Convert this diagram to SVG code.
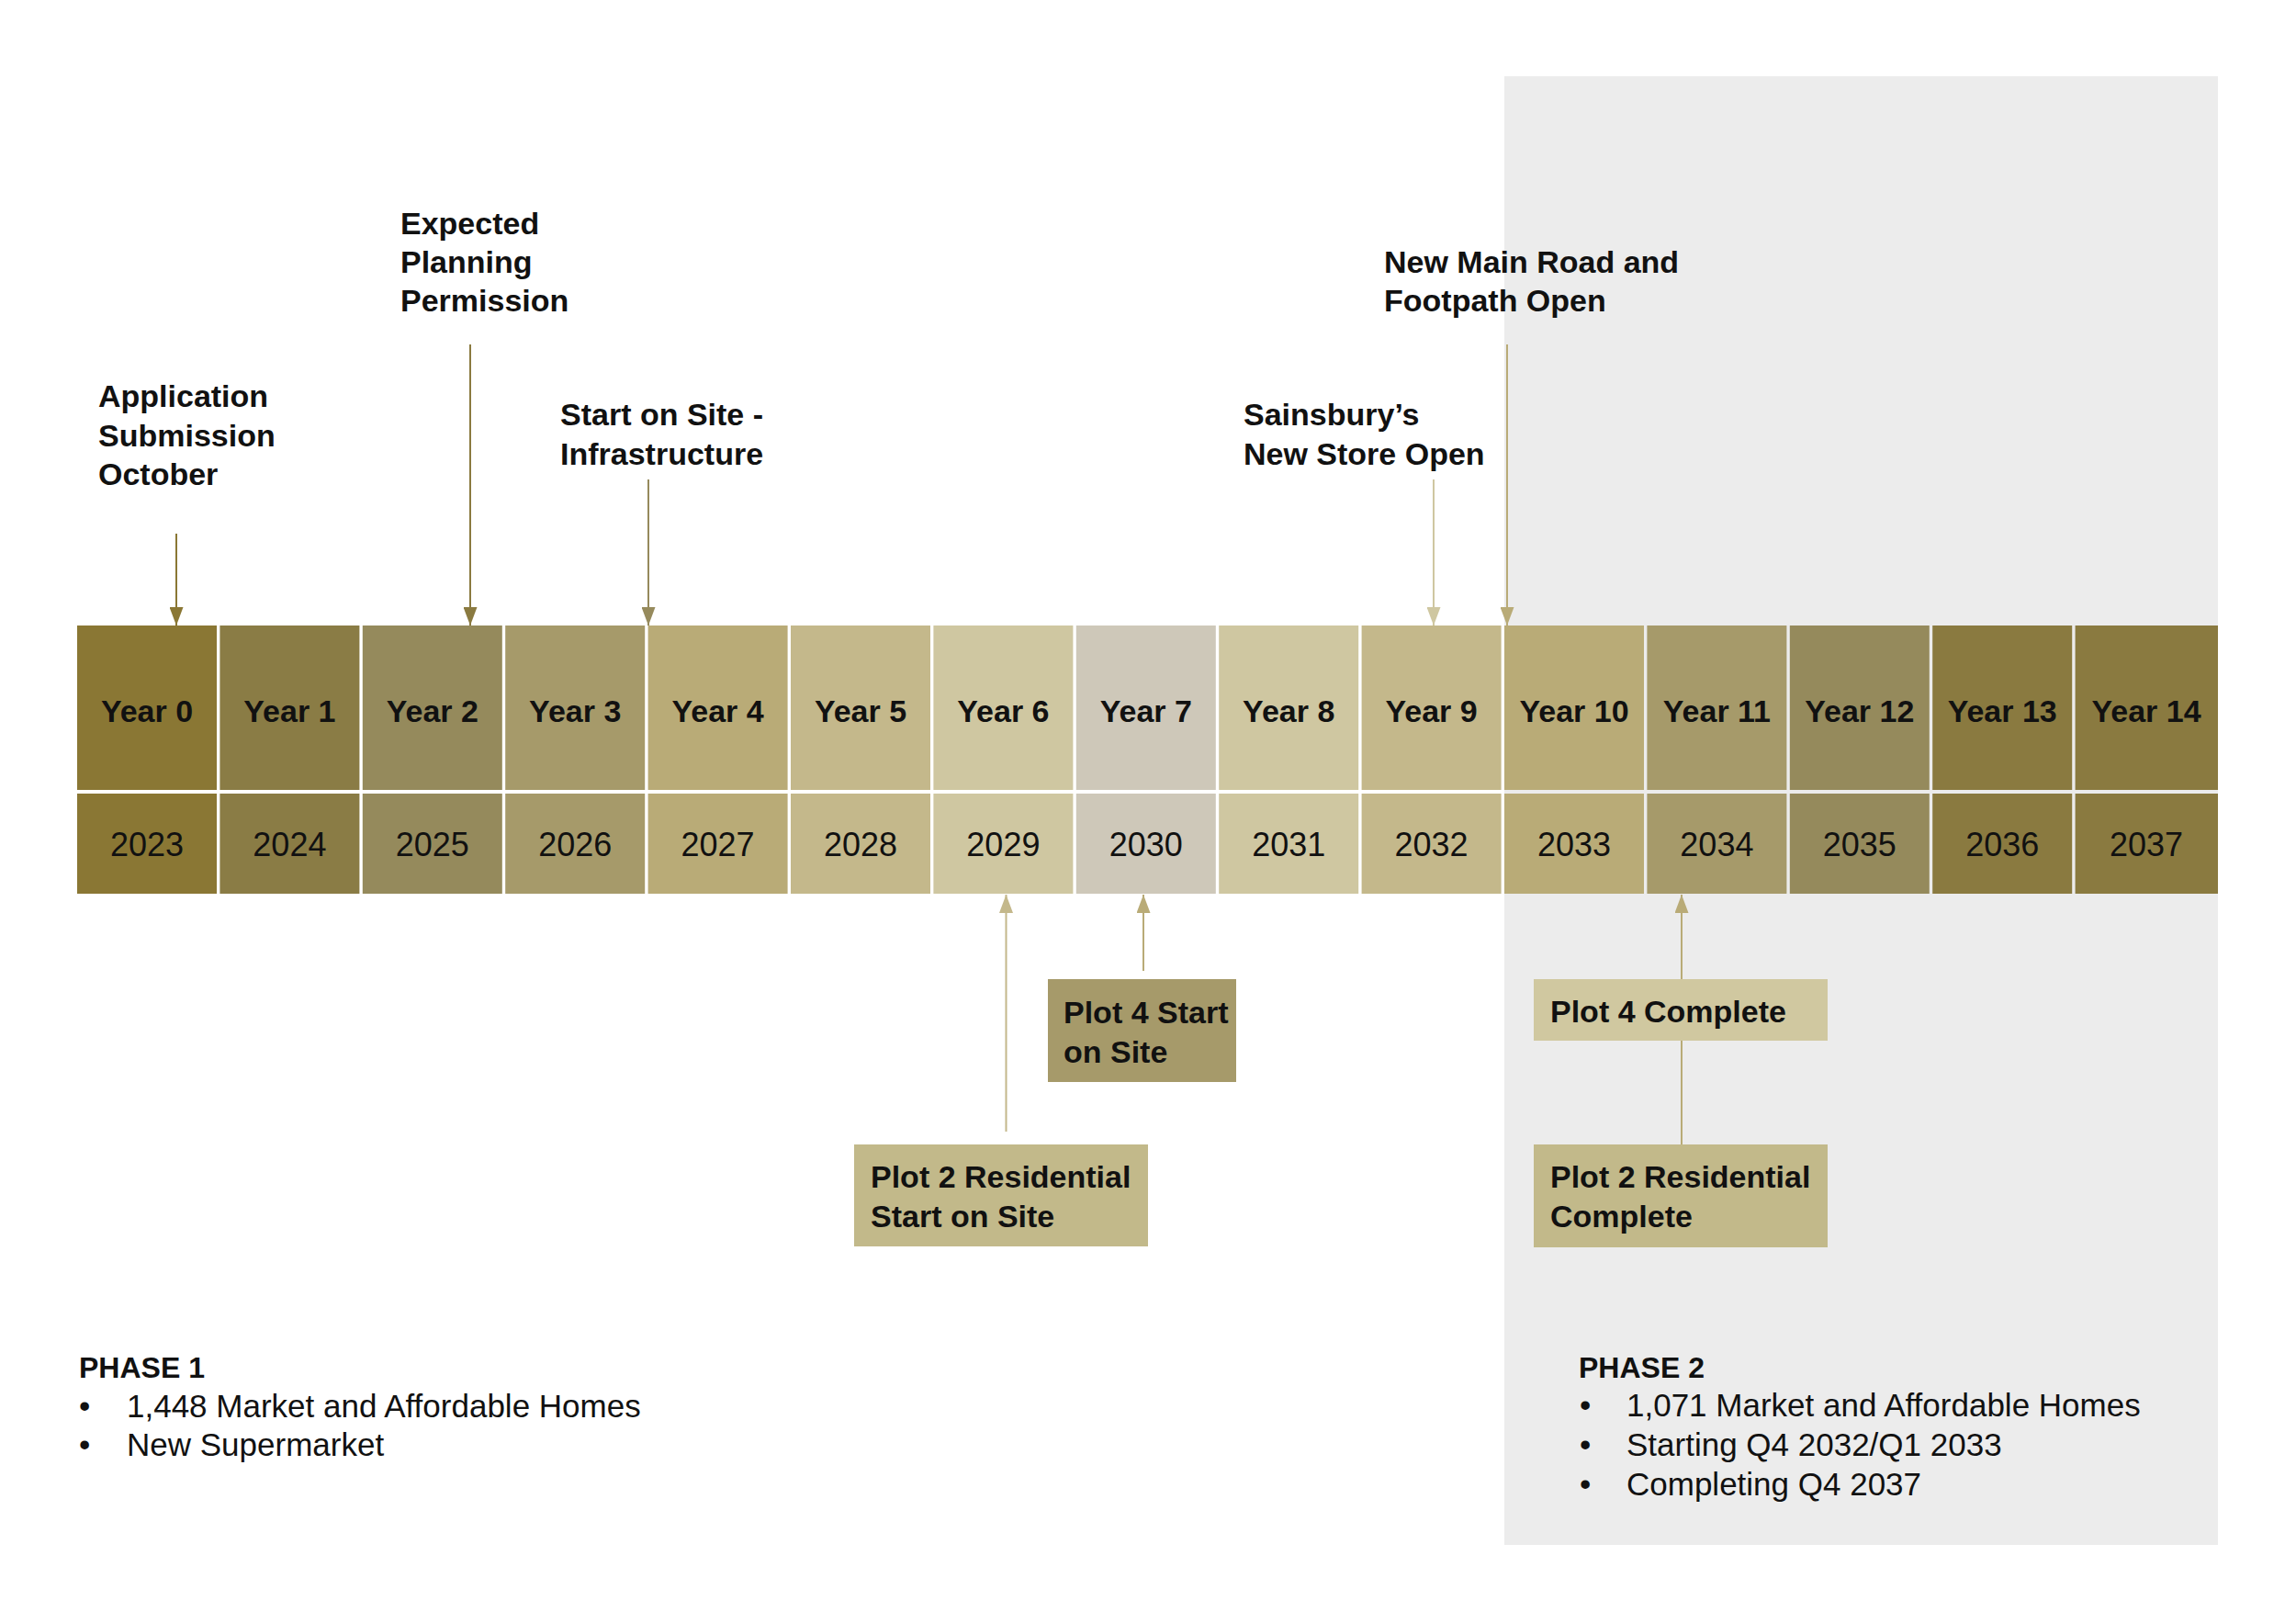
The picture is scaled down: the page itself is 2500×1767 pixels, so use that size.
<svg xmlns="http://www.w3.org/2000/svg" width="2500" height="1767" viewBox="0 0 2500 1767">
  <style>
    .lbl { font-family: "Liberation Sans", Arial, sans-serif; font-weight: bold; font-size: 34px; fill: #111; }
    .yr { font-family: "Liberation Sans", Arial, sans-serif; font-weight: bold; font-size: 34px; fill: #111; text-anchor: middle; }
    .dt { font-family: "Liberation Sans", Arial, sans-serif; font-size: 36px; fill: #111; text-anchor: middle; }
    .hd { font-family: "Liberation Sans", Arial, sans-serif; font-weight: bold; font-size: 32px; fill: #111; }
    .bl { font-family: "Liberation Sans", Arial, sans-serif; font-size: 35px; fill: #111; }
    .ln { fill: none; stroke-width: 2; }
  </style>
  <defs>
    <marker id="ah-c0" viewBox="0 0 20 15" markerUnits="userSpaceOnUse" markerWidth="20" markerHeight="15" refX="20" refY="7.5" orient="auto"><path d="M0,0 L20,7.5 L0,15 z" fill="#8a7734"/></marker>
    <marker id="ah-c1" viewBox="0 0 20 15" markerUnits="userSpaceOnUse" markerWidth="20" markerHeight="15" refX="20" refY="7.5" orient="auto"><path d="M0,0 L20,7.5 L0,15 z" fill="#8a7a40"/></marker>
    <marker id="ah-c2" viewBox="0 0 20 15" markerUnits="userSpaceOnUse" markerWidth="20" markerHeight="15" refX="20" refY="7.5" orient="auto"><path d="M0,0 L20,7.5 L0,15 z" fill="#968a5c"/></marker>
    <marker id="ah-c4" viewBox="0 0 20 15" markerUnits="userSpaceOnUse" markerWidth="20" markerHeight="15" refX="20" refY="7.5" orient="auto"><path d="M0,0 L20,7.5 L0,15 z" fill="#b9ab77"/></marker>
    <marker id="ah-c5" viewBox="0 0 20 15" markerUnits="userSpaceOnUse" markerWidth="20" markerHeight="15" refX="20" refY="7.5" orient="auto"><path d="M0,0 L20,7.5 L0,15 z" fill="#c4b88b"/></marker>
    <marker id="ah-c6" viewBox="0 0 20 15" markerUnits="userSpaceOnUse" markerWidth="20" markerHeight="15" refX="20" refY="7.5" orient="auto"><path d="M0,0 L20,7.5 L0,15 z" fill="#cfc7a1"/></marker>
  </defs>

  <rect width="2500" height="1767" fill="#ffffff"/>
  <rect id="phase2-bg" x="1638" y="83" width="777" height="1599" fill="#ececec"/>

  <g id="timeline">
    <g id="year0"><rect x="84" y="681" width="152" height="179" fill="#8a7734"/><rect x="84" y="864" width="152" height="109" fill="#8a7734"/><text class="yr" x="160" y="786">Year 0</text><text class="dt" x="160" y="932">2023</text></g>
    <g id="year1"><rect x="239.4" y="681" width="152" height="179" fill="#8a7c45"/><rect x="239.4" y="864" width="152" height="109" fill="#8a7c45"/><text class="yr" x="315.4" y="786">Year 1</text><text class="dt" x="315.4" y="932">2024</text></g>
    <g id="year2"><rect x="394.8" y="681" width="152" height="179" fill="#958a5c"/><rect x="394.8" y="864" width="152" height="109" fill="#958a5c"/><text class="yr" x="470.8" y="786">Year 2</text><text class="dt" x="470.8" y="932">2025</text></g>
    <g id="year3"><rect x="550.2" y="681" width="152" height="179" fill="#a69a6a"/><rect x="550.2" y="864" width="152" height="109" fill="#a69a6a"/><text class="yr" x="626.2" y="786">Year 3</text><text class="dt" x="626.2" y="932">2026</text></g>
    <g id="year4"><rect x="705.6" y="681" width="152" height="179" fill="#b9ab77"/><rect x="705.6" y="864" width="152" height="109" fill="#b9ab77"/><text class="yr" x="781.6" y="786">Year 4</text><text class="dt" x="781.6" y="932">2027</text></g>
    <g id="year5"><rect x="861" y="681" width="152" height="179" fill="#c4b88b"/><rect x="861" y="864" width="152" height="109" fill="#c4b88b"/><text class="yr" x="937" y="786">Year 5</text><text class="dt" x="937" y="932">2028</text></g>
    <g id="year6"><rect x="1016.4" y="681" width="152" height="179" fill="#cfc7a1"/><rect x="1016.4" y="864" width="152" height="109" fill="#cfc7a1"/><text class="yr" x="1092.4" y="786">Year 6</text><text class="dt" x="1092.4" y="932">2029</text></g>
    <g id="year7"><rect x="1171.8" y="681" width="152" height="179" fill="#cec8b9"/><rect x="1171.8" y="864" width="152" height="109" fill="#cec8b9"/><text class="yr" x="1247.8" y="786">Year 7</text><text class="dt" x="1247.8" y="932">2030</text></g>
    <g id="year8"><rect x="1327.2" y="681" width="152" height="179" fill="#cfc7a1"/><rect x="1327.2" y="864" width="152" height="109" fill="#cfc7a1"/><text class="yr" x="1403.2" y="786">Year 8</text><text class="dt" x="1403.2" y="932">2031</text></g>
    <g id="year9"><rect x="1482.6" y="681" width="152" height="179" fill="#c4b88b"/><rect x="1482.6" y="864" width="152" height="109" fill="#c4b88b"/><text class="yr" x="1558.6" y="786">Year 9</text><text class="dt" x="1558.6" y="932">2032</text></g>
    <g id="year10"><rect x="1638" y="681" width="152" height="179" fill="#b9ab77"/><rect x="1638" y="864" width="152" height="109" fill="#b9ab77"/><text class="yr" x="1714" y="786">Year 10</text><text class="dt" x="1714" y="932">2033</text></g>
    <g id="year11"><rect x="1793.4" y="681" width="152" height="179" fill="#a69a6a"/><rect x="1793.4" y="864" width="152" height="109" fill="#a69a6a"/><text class="yr" x="1869.4" y="786">Year 11</text><text class="dt" x="1869.4" y="932">2034</text></g>
    <g id="year12"><rect x="1948.8" y="681" width="152" height="179" fill="#958a5c"/><rect x="1948.8" y="864" width="152" height="109" fill="#958a5c"/><text class="yr" x="2024.8" y="786">Year 12</text><text class="dt" x="2024.8" y="932">2035</text></g>
    <g id="year13"><rect x="2104.2" y="681" width="152" height="179" fill="#8a7a40"/><rect x="2104.2" y="864" width="152" height="109" fill="#8a7a40"/><text class="yr" x="2180.2" y="786">Year 13</text><text class="dt" x="2180.2" y="932">2036</text></g>
    <g id="year14"><rect x="2259.6" y="681" width="155.4" height="179" fill="#8a7a40"/><rect x="2259.6" y="864" width="155.4" height="109" fill="#8a7a40"/><text class="yr" x="2337" y="786">Year 14</text><text class="dt" x="2337" y="932">2037</text></g>
  </g>

  <g id="connectors">
    <line class="ln" x1="192" y1="581" x2="192" y2="681" stroke="#8a7734" marker-end="url(#ah-c0)"/>
    <line class="ln" x1="512" y1="375" x2="512" y2="681" stroke="#8a7a40" marker-end="url(#ah-c1)"/>
    <line class="ln" x1="706" y1="522" x2="706" y2="681" stroke="#968a5c" marker-end="url(#ah-c2)"/>
    <line class="ln" x1="1561" y1="522" x2="1561" y2="681" stroke="#cfc7a1" marker-end="url(#ah-c6)"/>
    <line class="ln" x1="1641" y1="375" x2="1641" y2="681" stroke="#b9ab77" marker-end="url(#ah-c4)"/>
    <line class="ln" x1="1095.5" y1="1232" x2="1095.5" y2="974" stroke="#c4b88b" marker-end="url(#ah-c5)"/>
    <line class="ln" x1="1245" y1="1057" x2="1245" y2="974" stroke="#b9ab77" marker-end="url(#ah-c4)"/>
    <line class="ln" x1="1831" y1="1066" x2="1831" y2="974" stroke="#b9ab77" marker-end="url(#ah-c4)"/>
    <line class="ln" x1="1831" y1="1246" x2="1831" y2="1133" stroke="#b9ab77"/>
  </g>

  <g id="label-application">
    <text class="lbl" x="107" y="443">Application</text>
    <text class="lbl" x="107" y="486">Submission</text>
    <text class="lbl" x="107" y="528">October</text>
  </g>
  <g id="label-planning">
    <text class="lbl" x="436" y="255">Expected</text>
    <text class="lbl" x="436" y="297">Planning</text>
    <text class="lbl" x="436" y="339">Permission</text>
  </g>
  <g id="label-start-site">
    <text class="lbl" x="610" y="463">Start on Site -</text>
    <text class="lbl" x="610" y="506">Infrastructure</text>
  </g>
  <g id="label-sainsburys">
    <text class="lbl" x="1354" y="463">Sainsbury’s</text>
    <text class="lbl" x="1354" y="506">New Store Open</text>
  </g>
  <g id="label-main-road">
    <text class="lbl" x="1507" y="297">New Main Road and</text>
    <text class="lbl" x="1507" y="339">Footpath Open</text>
  </g>

  <g id="box-plot4-start">
    <rect x="1141" y="1066" width="205" height="112" fill="#a69a6a"/>
    <text class="lbl" x="1158" y="1114">Plot 4 Start</text>
    <text class="lbl" x="1158" y="1157">on Site</text>
  </g>
  <g id="box-plot2-start">
    <rect x="930" y="1246" width="320" height="111" fill="#c2b98a"/>
    <text class="lbl" x="948" y="1293">Plot 2 Residential</text>
    <text class="lbl" x="948" y="1336">Start on Site</text>
  </g>
  <g id="box-plot4-complete">
    <rect x="1670" y="1066" width="320" height="67" fill="#d0c8a0"/>
    <text class="lbl" x="1688" y="1113">Plot 4 Complete</text>
  </g>
  <g id="box-plot2-complete">
    <rect x="1670" y="1246" width="320" height="112" fill="#c2b98a"/>
    <text class="lbl" x="1688" y="1293">Plot 2 Residential</text>
    <text class="lbl" x="1688" y="1336">Complete</text>
  </g>

  <g id="phase1">
    <text class="hd" x="86" y="1500">PHASE 1</text>
    <text class="bl" x="86" y="1543">•</text>
    <text class="bl" x="138" y="1543">1,448 Market and Affordable Homes</text>
    <text class="bl" x="86" y="1585">•</text>
    <text class="bl" x="138" y="1585">New Supermarket</text>
  </g>
  <g id="phase2">
    <text class="hd" x="1719" y="1500">PHASE 2</text>
    <text class="bl" x="1720" y="1542">•</text>
    <text class="bl" x="1771" y="1542">1,071 Market and Affordable Homes</text>
    <text class="bl" x="1720" y="1585">•</text>
    <text class="bl" x="1771" y="1585">Starting Q4 2032/Q1 2033</text>
    <text class="bl" x="1720" y="1628">•</text>
    <text class="bl" x="1771" y="1628">Completing Q4 2037</text>
  </g>
</svg>
